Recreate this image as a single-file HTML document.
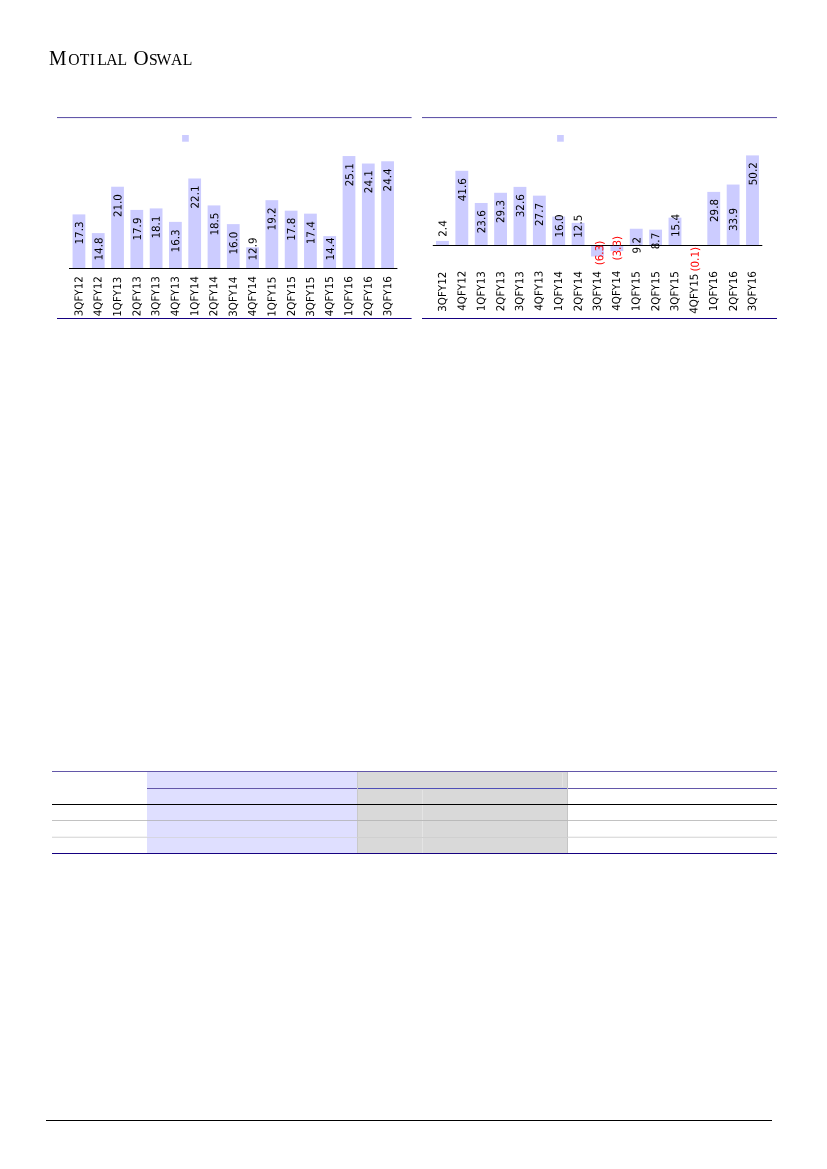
<!DOCTYPE html>
<html><head><meta charset="utf-8"><title>Motilal Oswal</title>
<style>
html,body{margin:0;padding:0;background:#fff;}
body{width:827px;height:1169px;overflow:hidden;position:relative;}
svg{position:absolute;left:0;top:0;will-change:transform;}
svg text{font-family:"DejaVu Sans",sans-serif;font-stretch:condensed;font-size:11px;}
svg text.logo{font-family:"Liberation Serif",serif;font-stretch:normal;}
.cap{font-size:21px;}
.sc{font-size:15.7px;}
</style></head><body>
<svg width="827" height="1169" viewBox="0 0 827 1169">
<text y="65" class="logo"><tspan x="49.0" class="cap" textLength="17.5" lengthAdjust="spacingAndGlyphs">M</tspan><tspan x="68.3 79.65 89.7 97.35 106.2 117.4" class="sc">OTILAL</tspan> <tspan x="133.45" class="cap">O</tspan><tspan x="149.05 156.5 171.1 182.7" class="sc">SWAL</tspan></text>
<rect x="57" y="117" width="354.6" height="1" fill="#6357a9"/>
<rect x="57" y="118" width="354.6" height="1" fill="#f0eff8"/>
<rect x="422" y="118" width="355" height="1" fill="#f0eff8"/>
<rect x="422" y="117" width="355" height="1" fill="#6357a9"/>
<rect x="57" y="318" width="354.6" height="1" fill="#150080"/>
<rect x="422" y="318" width="355" height="1" fill="#150080"/>
<rect x="182.1" y="135" width="6.7" height="6.7" fill="#ccccff"/>
<rect x="557.1" y="135" width="6.7" height="6.7" fill="#ccccff"/>
<rect x="72.58" y="214.40" width="12.75" height="54.10" fill="#ccccff"/>
<rect x="91.87" y="233.10" width="12.75" height="35.40" fill="#ccccff"/>
<rect x="111.16" y="186.72" width="12.75" height="81.78" fill="#ccccff"/>
<rect x="130.44" y="209.91" width="12.75" height="58.59" fill="#ccccff"/>
<rect x="149.74" y="208.41" width="12.75" height="60.09" fill="#ccccff"/>
<rect x="169.02" y="221.88" width="12.75" height="46.62" fill="#ccccff"/>
<rect x="188.31" y="178.49" width="12.75" height="90.01" fill="#ccccff"/>
<rect x="207.61" y="205.42" width="12.75" height="63.08" fill="#ccccff"/>
<rect x="226.89" y="224.12" width="12.75" height="44.38" fill="#ccccff"/>
<rect x="246.19" y="247.31" width="12.75" height="21.19" fill="#ccccff"/>
<rect x="265.47" y="200.18" width="12.75" height="68.32" fill="#ccccff"/>
<rect x="284.76" y="210.66" width="12.75" height="57.84" fill="#ccccff"/>
<rect x="304.06" y="213.65" width="12.75" height="54.85" fill="#ccccff"/>
<rect x="323.34" y="236.09" width="12.75" height="32.41" fill="#ccccff"/>
<rect x="342.63" y="156.05" width="12.75" height="112.45" fill="#ccccff"/>
<rect x="361.92" y="163.53" width="12.75" height="104.97" fill="#ccccff"/>
<rect x="381.21" y="161.29" width="12.75" height="107.21" fill="#ccccff"/>
<rect x="436.02" y="240.91" width="12.85" height="4.29" fill="#ccccff"/>
<rect x="455.40" y="170.78" width="12.85" height="74.42" fill="#ccccff"/>
<rect x="474.78" y="202.98" width="12.85" height="42.22" fill="#ccccff"/>
<rect x="494.16" y="192.78" width="12.85" height="52.42" fill="#ccccff"/>
<rect x="513.54" y="186.88" width="12.85" height="58.32" fill="#ccccff"/>
<rect x="532.92" y="195.64" width="12.85" height="49.56" fill="#ccccff"/>
<rect x="552.29" y="216.58" width="12.85" height="28.62" fill="#ccccff"/>
<rect x="571.67" y="222.84" width="12.85" height="22.36" fill="#ccccff"/>
<rect x="591.05" y="245.20" width="12.85" height="11.27" fill="#ccccff"/>
<rect x="610.43" y="245.20" width="12.85" height="5.90" fill="#ccccff"/>
<rect x="629.81" y="228.74" width="12.85" height="16.46" fill="#ccccff"/>
<rect x="649.18" y="229.64" width="12.85" height="15.56" fill="#ccccff"/>
<rect x="668.56" y="217.65" width="12.85" height="27.55" fill="#ccccff"/>
<rect x="687.94" y="245.20" width="12.85" height="0.18" fill="#ccccff"/>
<rect x="707.32" y="191.89" width="12.85" height="53.31" fill="#ccccff"/>
<rect x="726.70" y="184.55" width="12.85" height="60.65" fill="#ccccff"/>
<rect x="746.07" y="155.39" width="12.85" height="89.81" fill="#ccccff"/>
<rect x="69" y="268" width="328.4" height="1" fill="#000"/>
<rect x="432.8" y="245" width="329.5" height="1" fill="#000"/>
<text transform="translate(83.06,232.98) rotate(-89.95) scale(1.045,1)" fill="#000" text-anchor="middle">17.3</text>
<text transform="translate(102.51,249.00) rotate(-89.95) scale(1.045,1)" fill="#000" text-anchor="middle">14.8</text>
<text transform="translate(121.46,205.60) rotate(-89.95) scale(1.045,1)" fill="#000" text-anchor="middle">21.0</text>
<text transform="translate(140.91,229.04) rotate(-89.95) scale(1.045,1)" fill="#000" text-anchor="middle">17.9</text>
<text transform="translate(159.86,227.06) rotate(-89.95) scale(1.045,1)" fill="#000" text-anchor="middle">18.1</text>
<text transform="translate(179.31,240.88) rotate(-89.95) scale(1.045,1)" fill="#000" text-anchor="middle">16.3</text>
<text transform="translate(198.76,196.96) rotate(-89.95) scale(1.045,1)" fill="#000" text-anchor="middle">22.1</text>
<text transform="translate(218.21,224.10) rotate(-89.95) scale(1.045,1)" fill="#000" text-anchor="middle">18.5</text>
<text transform="translate(237.16,243.10) rotate(-89.95) scale(1.045,1)" fill="#000" text-anchor="middle">16.0</text>
<text transform="translate(256.61,249.00) rotate(-89.95) scale(1.045,1)" fill="#000" text-anchor="middle">12.9</text>
<text transform="translate(275.56,218.92) rotate(-89.95) scale(1.045,1)" fill="#000" text-anchor="middle">19.2</text>
<text transform="translate(295.01,229.28) rotate(-89.95) scale(1.045,1)" fill="#000" text-anchor="middle">17.8</text>
<text transform="translate(314.46,232.74) rotate(-89.95) scale(1.045,1)" fill="#000" text-anchor="middle">17.4</text>
<text transform="translate(333.91,249.00) rotate(-89.95) scale(1.045,1)" fill="#000" text-anchor="middle">14.4</text>
<text transform="translate(353.36,174.76) rotate(-89.95) scale(1.045,1)" fill="#000" text-anchor="middle">25.1</text>
<text transform="translate(372.31,181.66) rotate(-89.95) scale(1.045,1)" fill="#000" text-anchor="middle">24.1</text>
<text transform="translate(391.26,179.94) rotate(-89.95) scale(1.045,1)" fill="#000" text-anchor="middle">24.4</text>
<text transform="translate(82.56,296.25) rotate(-89.95) scale(1.045,1)" fill="#000" text-anchor="middle">3QFY12</text>
<text transform="translate(101.51,296.25) rotate(-89.95) scale(1.045,1)" fill="#000" text-anchor="middle">4QFY12</text>
<text transform="translate(120.96,296.75) rotate(-89.95) scale(1.045,1)" fill="#000" text-anchor="middle">1QFY13</text>
<text transform="translate(140.41,296.25) rotate(-89.95) scale(1.045,1)" fill="#000" text-anchor="middle">2QFY13</text>
<text transform="translate(159.36,296.25) rotate(-89.95) scale(1.045,1)" fill="#000" text-anchor="middle">3QFY13</text>
<text transform="translate(178.81,296.25) rotate(-89.95) scale(1.045,1)" fill="#000" text-anchor="middle">4QFY13</text>
<text transform="translate(198.26,296.25) rotate(-89.95) scale(1.045,1)" fill="#000" text-anchor="middle">1QFY14</text>
<text transform="translate(217.21,296.25) rotate(-89.95) scale(1.045,1)" fill="#000" text-anchor="middle">2QFY14</text>
<text transform="translate(236.66,296.75) rotate(-89.95) scale(1.045,1)" fill="#000" text-anchor="middle">3QFY14</text>
<text transform="translate(256.11,296.25) rotate(-89.95) scale(1.045,1)" fill="#000" text-anchor="middle">4QFY14</text>
<text transform="translate(275.56,296.75) rotate(-89.95) scale(1.045,1)" fill="#000" text-anchor="middle">1QFY15</text>
<text transform="translate(295.01,296.25) rotate(-89.95) scale(1.045,1)" fill="#000" text-anchor="middle">2QFY15</text>
<text transform="translate(313.96,296.75) rotate(-89.95) scale(1.045,1)" fill="#000" text-anchor="middle">3QFY15</text>
<text transform="translate(332.91,296.25) rotate(-89.95) scale(1.045,1)" fill="#000" text-anchor="middle">4QFY15</text>
<text transform="translate(352.36,296.25) rotate(-89.95) scale(1.045,1)" fill="#000" text-anchor="middle">1QFY16</text>
<text transform="translate(371.81,296.25) rotate(-89.95) scale(1.045,1)" fill="#000" text-anchor="middle">2QFY16</text>
<text transform="translate(391.26,296.25) rotate(-89.95) scale(1.045,1)" fill="#000" text-anchor="middle">3QFY16</text>
<text transform="translate(446.56,228.50) rotate(-89.95) scale(1.045,1)" fill="#000" text-anchor="middle">2.4</text>
<text transform="translate(465.95,189.75) rotate(-89.95) scale(1.045,1)" fill="#000" text-anchor="middle">41.6</text>
<text transform="translate(485.34,221.75) rotate(-89.95) scale(1.045,1)" fill="#000" text-anchor="middle">23.6</text>
<text transform="translate(504.23,211.50) rotate(-89.95) scale(1.045,1)" fill="#000" text-anchor="middle">29.3</text>
<text transform="translate(524.12,205.75) rotate(-89.95) scale(1.045,1)" fill="#000" text-anchor="middle">32.6</text>
<text transform="translate(543.01,214.50) rotate(-89.95) scale(1.045,1)" fill="#000" text-anchor="middle">27.7</text>
<text transform="translate(562.90,226.00) rotate(-89.95) scale(1.045,1)" fill="#000" text-anchor="middle">16.0</text>
<text transform="translate(581.79,226.25) rotate(-89.95) scale(1.045,1)" fill="#000" text-anchor="middle">12.5</text>
<text transform="translate(603.31,253.00) rotate(-89.95) scale(1.045,1)" fill="#ff0000" text-anchor="middle">(6.3)</text>
<text transform="translate(620.81,248.25) rotate(-89.95) scale(1.045,1)" fill="#ff0000" text-anchor="middle">(3.3)</text>
<text transform="translate(640.46,245.25) rotate(-89.95) scale(1.045,1)" fill="#000" text-anchor="middle">9.2</text>
<text transform="translate(659.35,241.00) rotate(-89.95) scale(1.045,1)" fill="#000" text-anchor="middle">8.7</text>
<text transform="translate(679.24,225.50) rotate(-89.95) scale(1.045,1)" fill="#000" text-anchor="middle">15.4</text>
<text transform="translate(698.81,259.25) rotate(-89.95) scale(1.045,1)" fill="#ff0000" text-anchor="middle">(0.1)</text>
<text transform="translate(718.02,210.50) rotate(-89.95) scale(1.045,1)" fill="#000" text-anchor="middle">29.8</text>
<text transform="translate(736.91,219.50) rotate(-89.95) scale(1.045,1)" fill="#000" text-anchor="middle">33.9</text>
<text transform="translate(756.80,173.75) rotate(-89.95) scale(1.045,1)" fill="#000" text-anchor="middle">50.2</text>
<text transform="translate(446.06,291.75) rotate(-89.95) scale(1.045,1)" fill="#000" text-anchor="middle">3QFY12</text>
<text transform="translate(465.45,290.75) rotate(-89.95) scale(1.045,1)" fill="#000" text-anchor="middle">4QFY12</text>
<text transform="translate(484.84,291.25) rotate(-89.95) scale(1.045,1)" fill="#000" text-anchor="middle">1QFY13</text>
<text transform="translate(504.23,291.25) rotate(-89.95) scale(1.045,1)" fill="#000" text-anchor="middle">2QFY13</text>
<text transform="translate(523.12,291.25) rotate(-89.95) scale(1.045,1)" fill="#000" text-anchor="middle">3QFY13</text>
<text transform="translate(542.51,290.75) rotate(-89.95) scale(1.045,1)" fill="#000" text-anchor="middle">4QFY13</text>
<text transform="translate(561.90,291.25) rotate(-89.95) scale(1.045,1)" fill="#000" text-anchor="middle">1QFY14</text>
<text transform="translate(581.79,291.25) rotate(-89.95) scale(1.045,1)" fill="#000" text-anchor="middle">2QFY14</text>
<text transform="translate(600.68,291.25) rotate(-89.95) scale(1.045,1)" fill="#000" text-anchor="middle">3QFY14</text>
<text transform="translate(620.07,290.75) rotate(-89.95) scale(1.045,1)" fill="#000" text-anchor="middle">4QFY14</text>
<text transform="translate(639.46,291.25) rotate(-89.95) scale(1.045,1)" fill="#000" text-anchor="middle">1QFY15</text>
<text transform="translate(659.35,291.25) rotate(-89.95) scale(1.045,1)" fill="#000" text-anchor="middle">2QFY15</text>
<text transform="translate(678.24,291.25) rotate(-89.95) scale(1.045,1)" fill="#000" text-anchor="middle">3QFY15</text>
<text transform="translate(697.63,293.75) rotate(-89.95) scale(1.045,1)" fill="#000" text-anchor="middle">4QFY15</text>
<text transform="translate(717.02,291.25) rotate(-89.95) scale(1.045,1)" fill="#000" text-anchor="middle">1QFY16</text>
<text transform="translate(736.91,291.25) rotate(-89.95) scale(1.045,1)" fill="#000" text-anchor="middle">2QFY16</text>
<text transform="translate(755.80,291.25) rotate(-89.95) scale(1.045,1)" fill="#000" text-anchor="middle">3QFY16</text>
<rect x="147" y="772" width="210" height="81" fill="#dfdfff"/>
<rect x="357" y="772" width="211" height="81" fill="#d9d9d9"/>
<rect x="357" y="772" width="1" height="81" fill="#c9c9c9"/>
<rect x="567" y="772" width="1" height="81" fill="#c5c5c5"/>
<rect x="562" y="773" width="1" height="14" fill="#e3e3e3"/>
<rect x="422" y="790" width="1" height="63" fill="#e4e4e4"/>
<rect x="52" y="771" width="725" height="1" fill="#6357a9"/>
<rect x="147" y="788" width="210" height="1" fill="#6357a9"/>
<rect x="358" y="788" width="209" height="1" fill="#4f4fb8"/>
<rect x="568" y="788" width="209" height="1" fill="#6357a9"/>
<rect x="52" y="804" width="725" height="1" fill="#000"/>
<rect x="52" y="820" width="95" height="1" fill="#c2c2c2"/>
<rect x="147" y="820" width="210" height="1" fill="#bbbbc4"/>
<rect x="357" y="820" width="211" height="1" fill="#bababa"/>
<rect x="568" y="820" width="209" height="1" fill="#c2c2c2"/>
<rect x="52" y="836" width="95" height="1" fill="#f3f3f3"/>
<rect x="568" y="836" width="209" height="1" fill="#f3f3f3"/>
<rect x="52" y="837" width="95" height="1" fill="#dedede"/>
<rect x="147" y="837" width="210" height="1" fill="#d6d6e2"/>
<rect x="357" y="837" width="211" height="1" fill="#d0d0d0"/>
<rect x="568" y="837" width="209" height="1" fill="#dedede"/>
<rect x="52" y="853" width="725" height="1" fill="#150080"/>
<rect x="46" y="1120" width="726" height="1" fill="#000"/>
</svg>
</body></html>
